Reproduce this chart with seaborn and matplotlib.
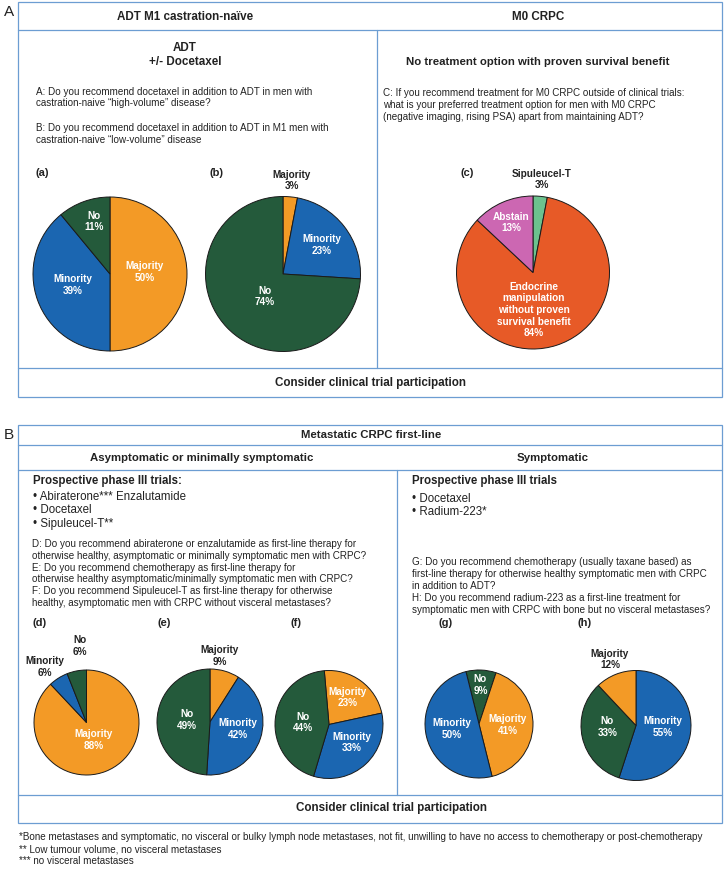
import numpy as np
import matplotlib
matplotlib.use("Agg")
import matplotlib.pyplot as plt
from matplotlib.patches import Rectangle
import seaborn as sns

sns.set_theme(style="white")
plt.rcParams['font.family'] = ['Liberation Sans', 'DejaVu Sans']

# ---- data ----
a_labels = ["Majority", "Minority", "No"]
a_values = [50, 39, 11]
b_labels = ["Majority", "Minority", "No"]
b_values = [3, 23, 74]
c_labels = ["Sipuleucel-T", "Endocrine\nmanipulation\nwithout proven\nsurvival benefit", "Abstain"]
c_values = [3, 84, 13]
d_labels = ["Majority", "Minority", "No"]
d_values = [88, 6, 6]
e_labels = ["Majority", "Minority", "No"]
e_values = [9, 42, 49]
f_labels = ["Majority", "Minority", "No"]
f_values = [23, 33, 44]
g_labels = ["No", "Majority", "Minority"]
g_values = [9, 41, 50]
h_labels = ["Minority", "No", "Majority"]
h_values = [55, 33, 12]

q_ab = ("A: Do you recommend docetaxel in addition to ADT in men with\n"
        "castration-naive \u201chigh-volume\u201d disease?")
q_b = ("B: Do you recommend docetaxel in addition to ADT in M1 men with\n"
       "castration-naive \u201clow-volume\u201d disease")
q_c = ("C: If you recommend treatment for M0 CRPC outside of clinical trials:\n"
       "what is your preferred treatment option for men with M0 CRPC\n"
       "(negative imaging, rising PSA) apart from maintaining ADT?")
q_def = ("D: Do you recommend abiraterone or enzalutamide as first-line therapy for\n"
         "otherwise healthy, asymptomatic or minimally symptomatic men with CRPC?\n"
         "E: Do you recommend chemotherapy as first-line therapy for\n"
         "otherwise healthy asymptomatic/minimally symptomatic men with CRPC?\n"
         "F: Do you recommend Sipuleucel-T as first-line therapy for otherwise\n"
         "healthy, asymptomatic men with CRPC without visceral metastases?")
q_gh = ("G: Do you recommend chemotherapy (usually taxane based) as\n"
        "first-line therapy for otherwise healthy symptomatic men with CRPC\n"
        "in addition to ADT?\n"
        "H: Do you recommend radium-223 as a first-line treatment for\n"
        "symptomatic men with CRPC with bone but no visceral metastases?")
trials_left = ["Abiraterone*** Enzalutamide", "Docetaxel", "Sipuleucel-T**"]
trials_right = ["Docetaxel", "Radium-223*"]
footnotes = ["*Bone metastases and symptomatic, no visceral or bulky lymph node metastases, "
             "not fit, unwilling to have no access to chemotherapy or post-chemotherapy",
             "** Low tumour volume, no visceral metastases",
             "*** no visceral metastases"]

# ---- style ----
W, H = 725, 884
palette = {"Majority": "#f39a26", "Minority": "#1b66b1", "No": "#245a3b",
           "Sipuleucel-T": "#6cc28e", "Abstain": "#cc67b2"}
endocrine_col = "#e75a27"
line_col = "#6c9dd2"
txt = "#222222"
body_fs = 7.15

fig = plt.figure(figsize=(W / 100, H / 100), dpi=100)
bg = fig.add_axes([0, 0, 1, 1])
bg.set_xlim(0, W)
bg.set_ylim(H, 0)
bg.axis("off")


def hline(y, x0=18, x1=722.5):
    bg.plot([x0, x1], [y, y], color=line_col, lw=0.9)


def vline(x, y0, y1):
    bg.plot([x, x], [y0, y1], color=line_col, lw=0.9)


def draw_pie(cx, cy, r, labels, values, start, layout):
    ax = fig.add_axes([(cx - r) / W, 1 - (cy + r) / H, 2 * r / W, 2 * r / H])
    cols = [palette.get(l, endocrine_col) for l in labels]
    wedges, _ = ax.pie(values, colors=cols, startangle=start, counterclock=False,
                       wedgeprops=dict(edgecolor="#1a1a1a", linewidth=0.7))
    ax.set_xlim(-1, 1)
    ax.set_ylim(-1, 1)
    for w, lab, v, (frac, shift) in zip(wedges, labels, values, layout):
        ang = np.deg2rad((w.theta1 + w.theta2) / 2 + shift)
        inside = frac < 1
        ax.text(frac * np.cos(ang), frac * np.sin(ang), f"{lab}\n{v}%",
                ha="center", va="center", fontsize=7.2, fontweight="bold",
                color="white" if inside else txt, linespacing=1.2)
    return ax


# ---- panel A ----
bg.text(4, 12, "A", fontsize=11, color=txt, va="center")
bg.add_patch(Rectangle((18, 2), 704.5, 395, fill=False, ec=line_col, lw=0.9))
hline(30)
hline(368)
vline(377, 30, 368)
bg.text(185, 17, "ADT M1 castration-na\u00efve", ha="center", va="center",
        fontsize=8.4, fontweight="bold", color=txt)
bg.text(538, 17, "M0 CRPC", ha="center", va="center", fontsize=8.4,
        fontweight="bold", color=txt)
bg.text(185, 55, "ADT\n+/- Docetaxel", ha="center", va="center", fontsize=8.4,
        fontweight="bold", color=txt, linespacing=1.25)
bg.text(36, 97.5, q_ab, ha="left", va="center", fontsize=body_fs, color=txt, linespacing=1.2)
bg.text(36, 134, q_b, ha="left", va="center", fontsize=body_fs, color=txt, linespacing=1.2)
bg.text(538, 62, "No treatment option with proven survival benefit", ha="center",
        va="center", fontsize=8.2, fontweight="bold", color=txt)
bg.text(383, 105, q_c, ha="left", va="center", fontsize=body_fs, color=txt, linespacing=1.2)
for x, s in [(42, "(a)"), (217, "(b)"), (467, "(c)")]:
    bg.text(x, 173, s, ha="center", va="center", fontsize=8, fontweight="bold", color=txt)
bg.text(371, 383, "Consider clinical trial participation", ha="center", va="center",
        fontsize=8.4, fontweight="bold", color=txt)

draw_pie(110, 274, 77, a_labels, a_values, 90, [(0.455, 3), (0.5, -3), (0.71, -3)])
draw_pie(283, 274, 77.5, b_labels, b_values, 90, [(1.21, 0), (0.63, -1), (0.37, 8)])
draw_pie(533, 272.5, 76.5, c_labels, c_values, 90, [(1.22, 0), (0.49, -16.5), (0.71, 0)])

# ---- panel B ----
bg.text(4, 435, "B", fontsize=11, color=txt, va="center")
bg.add_patch(Rectangle((18, 425), 704.5, 398, fill=False, ec=line_col, lw=0.9))
hline(445)
hline(470)
hline(795)
vline(397, 470, 795)
bg.text(371, 435, "Metastatic CRPC first-line", ha="center", va="center",
        fontsize=8.2, fontweight="bold", color=txt)
bg.text(202, 458, "Asymptomatic or minimally symptomatic", ha="center", va="center",
        fontsize=8.2, fontweight="bold", color=txt)
bg.text(553, 458, "Symptomatic", ha="center", va="center", fontsize=8.2,
        fontweight="bold", color=txt)
bg.text(33, 481, "Prospective phase III trials:", ha="left", va="center", fontsize=8.3,
        fontweight="bold", color=txt)
for i, s in enumerate(trials_left):
    bg.text(33, 497 + 13.3 * i, "\u2022 " + s, ha="left", va="center", fontsize=8.3, color=txt)
bg.text(412, 481, "Prospective phase III trials", ha="left", va="center", fontsize=8.3,
        fontweight="bold", color=txt)
for i, s in enumerate(trials_right):
    bg.text(412, 499 + 13.3 * i, "\u2022 " + s, ha="left", va="center", fontsize=8.3, color=txt)
bg.text(32, 573.5, q_def, ha="left", va="center", fontsize=body_fs, color=txt, linespacing=1.22)
bg.text(412, 586, q_gh, ha="left", va="center", fontsize=body_fs, color=txt, linespacing=1.22)
for x, s in [(40, "(d)"), (164, "(e)"), (296, "(f)"), (446, "(g)"), (585, "(h)")]:
    bg.text(x, 623, s, ha="center", va="center", fontsize=8, fontweight="bold", color=txt)
bg.text(392, 808, "Consider clinical trial participation", ha="center", va="center",
        fontsize=8.4, fontweight="bold", color=txt)

draw_pie(86.5, 722.5, 52.5, d_labels, d_values, 90, [(0.36, 0), (1.33, 4.7), (1.46, -6)])
draw_pie(210, 722, 53, e_labels, e_values, 90, [(1.26, 8), (0.55, 4), (0.43, -3)])
draw_pie(329, 724.5, 54, f_labels, f_values, 95, [(0.61, 2), (0.54, 9), (0.48, 1.4)])
draw_pie(479, 724, 54, g_labels, g_values, 104, [(0.72, 0), (0.53, 0), (0.51, -3.5)])
draw_pie(636, 725.5, 55, h_labels, h_values, 90, [(0.49, 6), (0.52, -9.6), (1.29, 0)])

# ---- footnotes ----
for i, s in enumerate(footnotes):
    bg.text(19, 837 + 12 * i, s, ha="left", va="center", fontsize=7.15, color=txt)

fig.savefig("out.png", dpi=100)
